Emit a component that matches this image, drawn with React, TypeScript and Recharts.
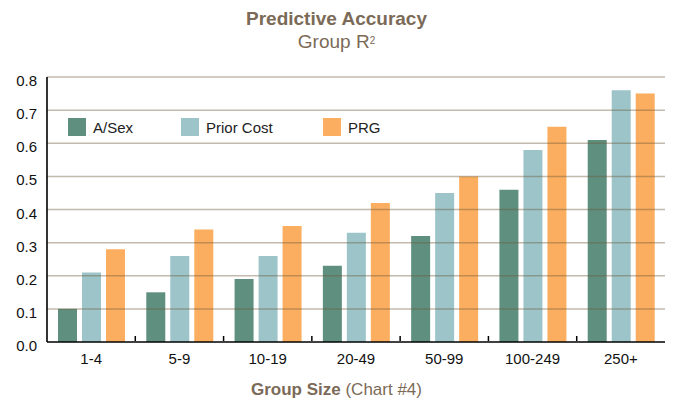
import React from 'react';
import { BarChart, Bar, XAxis, YAxis, ReferenceLine } from 'recharts';

const groups = ['1-4', '5-9', '10-19', '20-49', '50-99', '100-249', '250+'];
const ageSex = [0.1, 0.15, 0.19, 0.23, 0.32, 0.46, 0.61];
const priorCost = [0.21, 0.26, 0.26, 0.33, 0.45, 0.58, 0.76];
const prg = [0.28, 0.34, 0.35, 0.42, 0.5, 0.65, 0.75];
const yTicks = [0, 0.1, 0.2, 0.3, 0.4, 0.5, 0.6, 0.7, 0.8];

const series = [
  { key: 'ageSex', name: 'A/Sex', color: '#5f8f7e' },
  { key: 'priorCost', name: 'Prior Cost', color: '#9dc5c9' },
  { key: 'prg', name: 'PRG', color: '#fbae5f' },
];

const data = groups.map((g, i) => ({
  group: g,
  ageSex: ageSex[i],
  priorCost: priorCost[i],
  prg: prg[i],
}));

const FONT = '"Liberation Sans", Arial, Helvetica, sans-serif';
const BROWN = '#7b6a57';
const PLOT_W = 618;
const BAND = PLOT_W / groups.length;

// tick label at band centre, little upward tick at the band's right edge
const XTick = (props: any) => {
  const { x, y, payload, index } = props;
  return (
    <g>
      {index < groups.length - 1 && (
        <line x1={x + BAND / 2} x2={x + BAND / 2} y1={y - 9} y2={y - 14} stroke="#000" strokeWidth={1.5} />
      )}
      <text x={x} y={y} dy={14} textAnchor="middle" fontSize={15} fill="#111" fontFamily={FONT}>
        {payload.value}
      </text>
    </g>
  );
};

const YTick = (props: any) => {
  const { x, y, payload } = props;
  return (
    <text x={x} y={y} dy={9} textAnchor="end" fontSize={15} fill="#111" fontFamily={FONT}>
      {payload.value.toFixed(1)}
    </text>
  );
};

const legendWidths = [113, 142, 80];

export default function App() {
  return (
    <div style={{ position: 'absolute', left: 0, top: 0, width: 673, height: 404, background: '#fff', fontFamily: FONT }}>
      <div style={{ position: 'absolute', top: 8, left: 0, width: 673, textAlign: 'center', color: BROWN, fontSize: 19, fontWeight: 'bold', lineHeight: '22px' }}>
        Predictive Accuracy
      </div>
      <div style={{ position: 'absolute', top: 31, left: 0, width: 673, textAlign: 'center', color: BROWN, fontSize: 19, lineHeight: '22px' }}>
        Group R<sup style={{ fontSize: 10, verticalAlign: 'top', position: 'relative', top: -1 }}>2</sup>
      </div>
      <BarChart
        width={673}
        height={404}
        data={data}
        margin={{ top: 77, right: 8, bottom: 32, left: 0 }}
        barCategoryGap={10}
        barGap={5}
        style={{ position: 'absolute', left: 0, top: 0 }}
      >
        <XAxis
          dataKey="group"
          height={30}
          tick={<XTick />}
          tickLine={false}
          axisLine={{ stroke: '#000', strokeWidth: 1.6 }}
          interval={0}
        />
        <YAxis
          width={47}
          domain={[0, 0.8]}
          ticks={yTicks}
          tick={<YTick />}
          tickLine={false}
          tickMargin={4}
          axisLine={{ stroke: '#000', strokeWidth: 1.6 }}
        />
        {series.map((s) => (
          <Bar key={s.key} dataKey={s.key} name={s.name} fill={s.color} barSize={19} isAnimationActive={false} />
        ))}
        {yTicks.slice(1).map((v) => (
          <ReferenceLine key={v} y={v} stroke="#6e5a3c" strokeOpacity={0.42} strokeWidth={1.5} />
        ))}
      </BarChart>
      <div style={{ position: 'absolute', top: 118, left: 68, display: 'flex', fontSize: 15, color: '#222', whiteSpace: 'nowrap' }}>
        {series.map((s, i) => (
          <div key={s.key} style={{ display: 'flex', alignItems: 'center', width: legendWidths[i] }}>
            <span style={{ width: 18, height: 18, background: s.color, marginRight: 7, display: 'inline-block' }} />
            <span>{s.name}</span>
          </div>
        ))}
      </div>
      <div style={{ position: 'absolute', top: 380, left: 0, width: 673, textAlign: 'center', color: BROWN, fontSize: 17, lineHeight: '20px' }}>
        <span style={{ fontWeight: 'bold' }}>Group Size</span> (Chart #4)
      </div>
    </div>
  );
}
